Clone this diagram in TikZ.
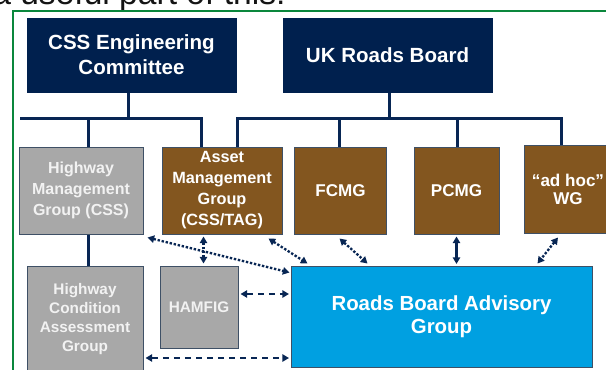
\documentclass[tikz,border=0pt]{standalone}
\usepackage{fontspec}
\setmainfont{Liberation Sans}
\usetikzlibrary{arrows.meta,calc}
\definecolor{navy}{RGB}{0,32,78}
\definecolor{brownbox}{RGB}{131,86,31}
\definecolor{graybox}{RGB}{168,168,168}
\definecolor{bluebox}{RGB}{0,160,225}
\definecolor{edge}{RGB}{62,80,102}
\definecolor{frame}{RGB}{10,135,60}
\definecolor{conn}{RGB}{8,38,84}
\definecolor{lighttext}{RGB}{242,242,242}
\pgfdeclarelayer{bg}
\pgfsetlayers{bg,main}
\tikzset{
  box/.style={draw=edge, line width=0.75pt, inner sep=0pt, align=center, text=white},
  navybox/.style={box, draw=navy, fill=navy, font=\fontsize{15.4}{18.75}\selectfont\bfseries},
  graymid/.style={box, fill=graybox, text=lighttext, font=\fontsize{12}{15.5}\selectfont\bfseries},
  graysmall/.style={box, fill=graybox, text=lighttext, font=\fontsize{11.5}{14.25}\selectfont\bfseries},
  brownmid/.style={box, fill=brownbox, font=\fontsize{12.2}{15.75}\selectfont\bfseries},
  brownbig/.style={box, fill=brownbox, font=\fontsize{12.8}{13.5}\selectfont\bfseries},
  bluebig/.style={box, fill=bluebox, font=\fontsize{15.3}{17.25}\selectfont\bfseries},
  bus/.style={draw=conn, line width=2.25pt, line cap=rect},
  tips/.style={>={Triangle[length=5pt,width=5.5pt]}},
  dotarrow/.style={tips, <->, draw=conn, line width=1.75pt, dash pattern=on 1.8pt off 1.3pt},
  dasharrow/.style={tips, <->, draw=conn, line width=1.7pt, dash pattern=on 4.5pt off 3.8pt},
  solidarrow/.style={tips, <->, draw=conn, line width=1.9pt},
}
\begin{document}
\begin{tikzpicture}[x=0.75pt,y=-0.75pt]
\useasboundingbox (0,0) rectangle (606,369);
\clip (0,0) rectangle (606,369);

% clipped caption line above the frame
\node[anchor=base west, inner sep=0pt, text=black!92, font=\fontsize{25.2}{30}\selectfont] (caption) at (-8,4) {a useful part of this:};

% green frame
\draw[frame, line width=1.5pt] (12.5,385) -- (12.5,11) -- (625,11);

% boxes
\node[navybox, minimum width=209*0.75pt, minimum height=74*0.75pt] (css) at (131.5,55) {CSS Engineering\\Committee};
\node[navybox, minimum width=209*0.75pt, minimum height=74*0.75pt] (ukrb) at (387.5,55) {UK Roads Board};

\node[graymid, minimum width=124*0.75pt, minimum height=87*0.75pt] (hmg) at (81,190.5) {Highway\\Management\\Group (CSS)};
\node[brownmid, minimum width=120*0.75pt, minimum height=87*0.75pt] (amg) at (222,190.5) {Asset\\Management\\Group\\(CSS/TAG)};
\node[brownbig, minimum width=92*0.75pt, minimum height=87*0.75pt] (fcmg) at (340.5,190.5) {FCMG};
\node[brownbig, minimum width=85*0.75pt, minimum height=87*0.75pt] (pcmg) at (456.5,190.5) {PCMG};
\node[brownbig, minimum width=88*0.75pt, minimum height=88*0.75pt] (adhoc) at (568,189) {“ad hoc”\\WG};

\node[graysmall, minimum width=116*0.75pt, minimum height=106*0.75pt] (hcag) at (85,319) {Highway\\Condition\\Assessment\\Group};
\node[graysmall, minimum width=78*0.75pt, minimum height=82*0.75pt] (hamfig) at (199,307) {HAMFIG};
\node[bluebig, minimum width=301*0.75pt, minimum height=101*0.75pt] (rbag) at (441.5,316.5) {Roads Board Advisory\\Group};

% reporting lines
\begin{pgfonlayer}{bg}
\coordinate (c1) at (128,118);
\coordinate (b1L) at (21,118);
\coordinate (b1R) at (201,118);
\coordinate (d1) at (88,118);
\draw[bus] (c1 |- css.south) -- (c1);
\draw[bus] (b1L) -- (b1R);
\draw[bus] (d1) -- (d1 |- hmg.north);
\draw[bus] (b1R) -- (b1R |- amg.north);
\draw[bus] (d1 |- hmg.south) -- (d1 |- hcag.north);

\coordinate (c2) at (389,118);
\coordinate (b2L) at (237,118);
\coordinate (b2R) at (561,118);
\coordinate (d2) at (339,118);
\coordinate (d3) at (457,118);
\draw[bus] (c2 |- ukrb.south) -- (c2);
\draw[bus] (b2L) -- (b2R);
\draw[bus] (b2L) -- (b2L |- amg.north);
\draw[bus] (d2) -- (d2 |- fcmg.north);
\draw[bus] (d3) -- (d3 |- pcmg.north);
\draw[bus] (b2R) -- (b2R |- adhoc.north);
\end{pgfonlayer}

% advisory links
\coordinate (v2) at (203.5,0);
\coordinate (h1) at (0,294);
\coordinate (h2) at (0,358);
\draw[dotarrow] ($(hmg.south east)+(4,3)$) -- ($(rbag.north west)+(-1,7)$);
\draw[dotarrow] ($(v2 |- amg.south)+(0,2)$) -- ($(v2 |- hamfig.north)+(0,-2)$);
\draw[dotarrow] ($(amg.south east)+(-14,4)$) -- ($(rbag.north west)+(17,-2)$);
\draw[dotarrow] ($(fcmg.south)+(-1,4)$) -- ($(rbag.north west)+(77,-2)$);
\draw[solidarrow] ($(pcmg.south)+(0,2)$) -- ($(pcmg.south |- rbag.north)+(0,-1.5)$);
\draw[dotarrow] ($(adhoc.south)+(-10,4)$) -- ($(rbag.north west)+(247,-2)$);
\draw[dasharrow] ($(h1 -| hamfig.east)+(2,0)$) -- ($(h1 -| rbag.west)+(-1.5,0)$);
\draw[dasharrow] ($(h2 -| hcag.east)+(2,0)$) -- ($(h2 -| rbag.west)+(-1.5,0)$);
\end{tikzpicture}
\end{document}
